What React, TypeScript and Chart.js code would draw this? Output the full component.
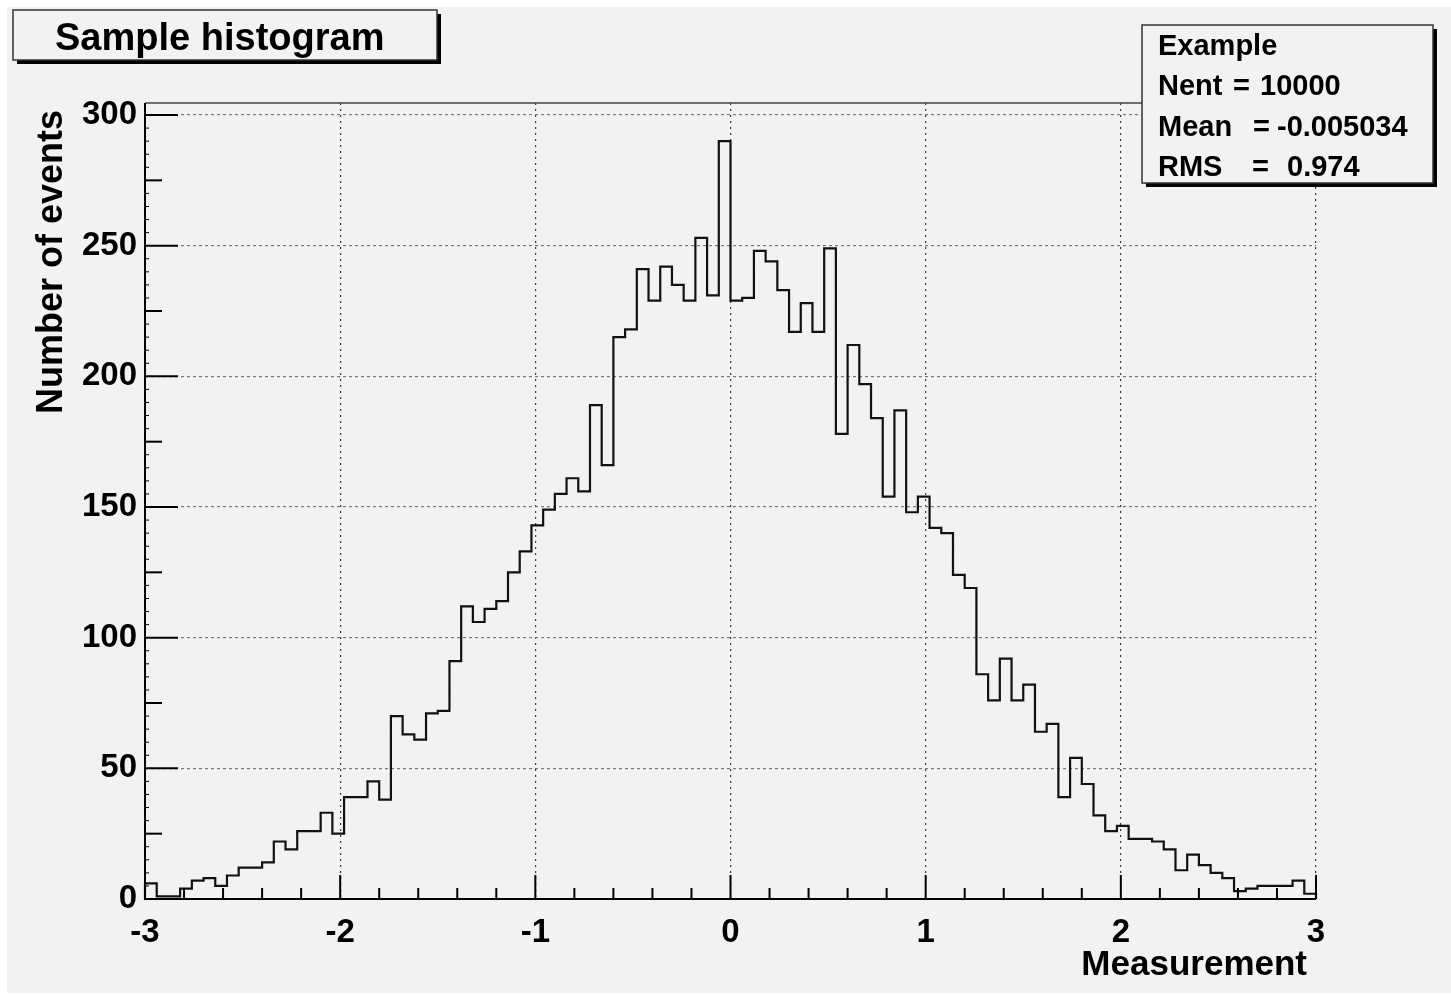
import React, { useEffect, useRef } from "react";
import { Chart, registerables } from "chart.js";

Chart.register(...registerables);

// ---- data ----
const X_MIN = -3;
const X_MAX = 3;
const Y_MAX = 304.6;
const binCounts = [
  6, 1, 1, 4, 7, 8, 5, 9, 12, 12,
  14, 22, 19, 26, 26, 33, 25, 39, 39, 45,
  38, 70, 63, 61, 71, 72, 91, 112, 106, 111,
  114, 125, 133, 143, 149, 155, 161, 156, 189, 166,
  215, 218, 241, 229, 242, 235, 229, 253, 231, 290,
  229, 230, 248, 244, 233, 217, 228, 217, 249, 178,
  212, 197, 184, 154, 187, 148, 154, 142, 140, 124,
  119, 86, 76, 92, 76, 82, 64, 67, 39, 54,
  44, 32, 26, 28, 23, 23, 22, 19, 11, 17,
  13, 10, 8, 3, 4, 5, 5, 5, 7, 2,
];
const xTickValues = [-3, -2, -1, 0, 1, 2, 3];
const yTickValues = [0, 50, 100, 150, 200, 250, 300];
const titleText = "Sample histogram";
const xAxisTitle = "Measurement";
const yAxisTitle = "Number of events";
const statsTitle = "Example";
const statsLabels = ["Nent", "Mean", "RMS"];
const statsValues = ["10000", "-0.005034", "0.974"];

// ---- style ----
const BG = "#f2f2f2";
const FONT = '"Liberation Sans", Arial, Helvetica, sans-serif';
const CANVAS_W = 1444;
const CANVAS_H = 986;

function buildPoints() {
  const n = binCounts.length;
  const w = (X_MAX - X_MIN) / n;
  const pts: { x: number; y: number }[] = [{ x: X_MIN, y: 0 }];
  binCounts.forEach((c, i) => pts.push({ x: X_MIN + i * w, y: c }));
  pts.push({ x: X_MAX, y: 0 });
  return pts;
}

function drawShadowBox(ctx: CanvasRenderingContext2D, l: number, t: number, r: number, b: number) {
  ctx.fillStyle = "#000";
  ctx.fillRect(l + 4, t + 4, r - l, b - t);
  ctx.fillStyle = BG;
  ctx.fillRect(l, t, r - l, b - t);
  ctx.strokeStyle = "#333";
  ctx.lineWidth = 1.5;
  ctx.strokeRect(l, t, r - l, b - t);
}

const rootStylePlugin = {
  id: "rootStyle",
  beforeDraw(chart: any) {
    const ctx = chart.ctx as CanvasRenderingContext2D;
    ctx.save();
    ctx.fillStyle = BG;
    ctx.fillRect(0, 0, chart.width, chart.height);
    ctx.restore();
  },
  afterDraw(chart: any) {
    const ctx = chart.ctx as CanvasRenderingContext2D;
    const a = chart.chartArea;
    const xs = chart.scales.x;
    const ys = chart.scales.y;
    ctx.save();

    // frame
    ctx.setLineDash([]);
    ctx.strokeStyle = "#444";
    ctx.lineWidth = 1.5;
    ctx.beginPath();
    ctx.moveTo(a.left, a.top);
    ctx.lineTo(a.right, a.top);
    ctx.stroke();
    ctx.strokeStyle = "#000";
    ctx.lineWidth = 2;
    ctx.beginPath();
    ctx.moveTo(a.left, a.top);
    ctx.lineTo(a.left, a.bottom);
    ctx.lineTo(a.right, a.bottom);
    ctx.stroke();

    // inward x ticks
    for (let k = 0; k <= 30; k++) {
      const v = X_MIN + k * 0.2;
      const px = xs.getPixelForValue(v);
      const len = k % 5 === 0 ? 24 : 11;
      ctx.lineWidth = 2;
      ctx.beginPath();
      ctx.moveTo(px, a.bottom);
      ctx.lineTo(px, a.bottom - len);
      ctx.stroke();
    }
    // inward y ticks
    for (let v = 0; v <= 300; v += 5) {
      const py = ys.getPixelForValue(v);
      let len = 4;
      let lw = 1;
      if (v % 50 === 0) { len = 33; lw = 2; }
      else if (v % 25 === 0) { len = 17; lw = 2; }
      ctx.lineWidth = lw;
      ctx.beginPath();
      ctx.moveTo(a.left, py);
      ctx.lineTo(a.left + len, py);
      ctx.stroke();
    }

    // axis titles
    ctx.fillStyle = "#000";
    ctx.font = `bold 35px ${FONT}`;
    ctx.textAlign = "right";
    ctx.textBaseline = "alphabetic";
    ctx.fillText(xAxisTitle, 1300, 968);

    ctx.save();
    ctx.translate(55, 103);
    ctx.rotate(-Math.PI / 2);
    ctx.font = `bold 36px ${FONT}`;
    ctx.textAlign = "right";
    ctx.fillText(yAxisTitle, 0, 0);
    ctx.restore();

    // title box
    drawShadowBox(ctx, 6, 3, 430, 53);
    ctx.fillStyle = "#000";
    ctx.font = `bold 38px ${FONT}`;
    ctx.textAlign = "left";
    ctx.fillText(titleText, 48, 43);

    // stats box
    drawShadowBox(ctx, 1135, 18, 1426, 176);
    ctx.fillStyle = "#000";
    ctx.font = `bold 29px ${FONT}`;
    ctx.textAlign = "left";
    ctx.fillText(statsTitle, 1151, 48);
    const baselines = [88, 129, 169];
    const eqX = [1226, 1246, 1245];
    const valX = [1253, 1270, 1280];
    statsLabels.forEach((lab, i) => {
      ctx.fillText(lab, 1151, baselines[i]);
      ctx.fillText("=", eqX[i], baselines[i]);
      ctx.fillText(statsValues[i], valX[i], baselines[i]);
    });

    ctx.restore();
  },
};

export default function App() {
  const canvasRef = useRef<HTMLCanvasElement | null>(null);

  useEffect(() => {
    const canvas = canvasRef.current;
    if (!canvas) return;
    const tickFont = { family: FONT, size: 33, weight: "bold" as const };
    const chart = new Chart(canvas, {
      type: "line",
      data: {
        datasets: [
          {
            data: buildPoints(),
            borderColor: "#111",
            borderWidth: 2.2,
            pointRadius: 0,
            stepped: "before",
            fill: false,
            tension: 0,
            clip: false as any,
          },
        ],
      },
      options: {
        animation: false,
        responsive: false,
        events: [],
        layout: { padding: { top: 96, right: 135, left: 0, bottom: 0 } },
        plugins: {
          legend: { display: false },
          tooltip: { enabled: false },
          title: { display: false },
        },
        scales: {
          x: {
            type: "linear",
            min: X_MIN,
            max: X_MAX,
            afterBuildTicks: (s: any) => {
              s.ticks = xTickValues.map((v) => ({ value: v }));
            },
            afterFit: (s: any) => {
              s.height = CANVAS_H - 892;
            },
            grid: { color: "#3a3a3a", lineWidth: 1.2, drawTicks: false },
            border: { display: false, dash: [2, 4] },
            ticks: {
              font: tickFont,
              color: "#000",
              padding: 14,
              maxRotation: 0,
              autoSkip: false,
              callback: (v: any) => String(v),
            },
          },
          y: {
            type: "linear",
            min: 0,
            max: Y_MAX,
            afterBuildTicks: (s: any) => {
              s.ticks = yTickValues.map((v) => ({ value: v }));
            },
            afterFit: (s: any) => {
              s.width = 138;
            },
            grid: { color: "#7a7a7a", lineWidth: 1.2, drawTicks: false },
            border: { display: false, dash: [3, 3] },
            ticks: {
              font: tickFont,
              color: "#000",
              padding: 8,
              autoSkip: false,
              callback: (v: any) => String(v),
            },
          },
        },
      },
      plugins: [rootStylePlugin],
    });
    return () => chart.destroy();
  }, []);

  return (
    <div style={{ position: "fixed", left: 7, top: 7, width: CANVAS_W, height: CANVAS_H }}>
      <canvas
        ref={canvasRef}
        width={CANVAS_W}
        height={CANVAS_H}
        style={{ display: "block", width: CANVAS_W, height: CANVAS_H }}
      />
    </div>
  );
}
